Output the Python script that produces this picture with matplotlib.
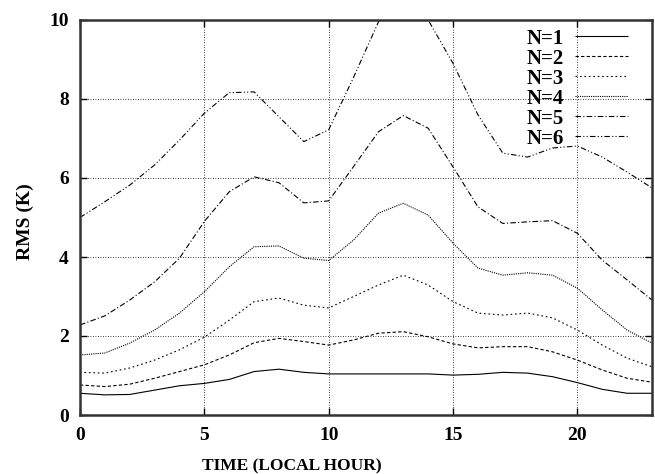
import matplotlib
matplotlib.use("Agg")
import matplotlib.pyplot as plt

hours = list(range(24))
n1 = [0.55, 0.51, 0.52, 0.63, 0.74, 0.80, 0.90, 1.10, 1.16, 1.08, 1.04, 1.04,
      1.04, 1.04, 1.04, 1.01, 1.03, 1.08, 1.06, 0.97, 0.82, 0.65, 0.55, 0.55]
n2 = [0.76, 0.72, 0.78, 0.93, 1.10, 1.27, 1.52, 1.83, 1.94, 1.86, 1.77, 1.90,
      2.07, 2.11, 1.98, 1.80, 1.70, 1.73, 1.73, 1.60, 1.39, 1.14, 0.93, 0.83]
n3 = [1.08, 1.06, 1.19, 1.39, 1.65, 1.97, 2.40, 2.87, 2.96, 2.78, 2.71, 3.00,
      3.29, 3.54, 3.29, 2.87, 2.58, 2.53, 2.58, 2.46, 2.15, 1.77, 1.44, 1.22]
n4 = [1.52, 1.57, 1.82, 2.15, 2.58, 3.12, 3.75, 4.26, 4.28, 3.97, 3.91, 4.43,
      5.11, 5.36, 5.06, 4.35, 3.72, 3.54, 3.60, 3.54, 3.21, 2.66, 2.15, 1.82]
n5 = [2.28, 2.51, 2.91, 3.37, 3.97, 4.90, 5.65, 6.03, 5.88, 5.37, 5.42, 6.29,
      7.17, 7.58, 7.26, 6.28, 5.27, 4.85, 4.89, 4.92, 4.60, 3.92, 3.42, 2.91]
n6 = [5.00, 5.40, 5.82, 6.33, 6.96, 7.64, 8.16, 8.18, 7.55, 6.92, 7.22, 8.55,
      9.95, 10.80, 10.00, 8.90, 7.60, 6.63, 6.53, 6.76, 6.81, 6.53, 6.15, 5.75]
labels = ["N=1", "N=2", "N=3", "N=4", "N=5", "N=6"]
xticks = [0, 5, 10, 15, 20]
yticks = [0, 2, 4, 6, 8, 10]

plt.rcParams['font.family'] = ['Liberation Serif', 'DejaVu Serif']
plt.rcParams['font.weight'] = 'bold'

fig = plt.figure(figsize=(6.55, 4.74), dpi=100)
ax = fig.add_axes([80/655, 59/474, 572/655, 395/474])

styles = [
    (0, ()),
    (0, (3, 2)),
    (0, (1.5, 2.5)),
    (0, (1, 1)),
    (0, (5, 2, 1, 2)),
    (0, (5, 2, 1, 2, 1, 2)),
]
series = [n1, n2, n3, n4, n5, n6]
for vals, lab, ls in zip(series, labels, styles):
    ax.plot(hours, vals, color='black', lw=0.8, linestyle=ls, label=lab)

ax.set_xlim(0, 23)
ax.set_ylim(0, 10)
ax.set_xticks(xticks)
ax.set_yticks(yticks)
ax.grid(True, color='black', linestyle=(0, (1, 2)), lw=0.6)
ax.tick_params(direction='in', top=True, right=True, labelsize=14, length=5, width=1)
ax.tick_params(axis='x', pad=9)
ax.tick_params(axis='y', pad=8)
for lab in ax.get_xticklabels() + ax.get_yticklabels():
    lab.set_fontweight('bold')
for s in ax.spines.values():
    s.set_linewidth(1.8)
    s.set_color('#333333')

ax.set_xlabel("TIME (LOCAL HOUR)", fontsize=12.5, fontweight='bold')
ax.xaxis.set_label_coords(0.371, -0.110)
ax.set_ylabel("RMS (K)", fontsize=14, fontweight='bold')
ax.yaxis.set_label_coords(-0.08, 0.49)

leg = ax.legend(loc='upper right', bbox_to_anchor=(0.988, 1.02), frameon=False,
                markerfirst=False,
                prop={'size': 15, 'weight': 'bold'}, handlelength=2.55,
                labelspacing=0.0, borderaxespad=0.4, handletextpad=0.55)

fig.savefig("out.png", dpi=100)
